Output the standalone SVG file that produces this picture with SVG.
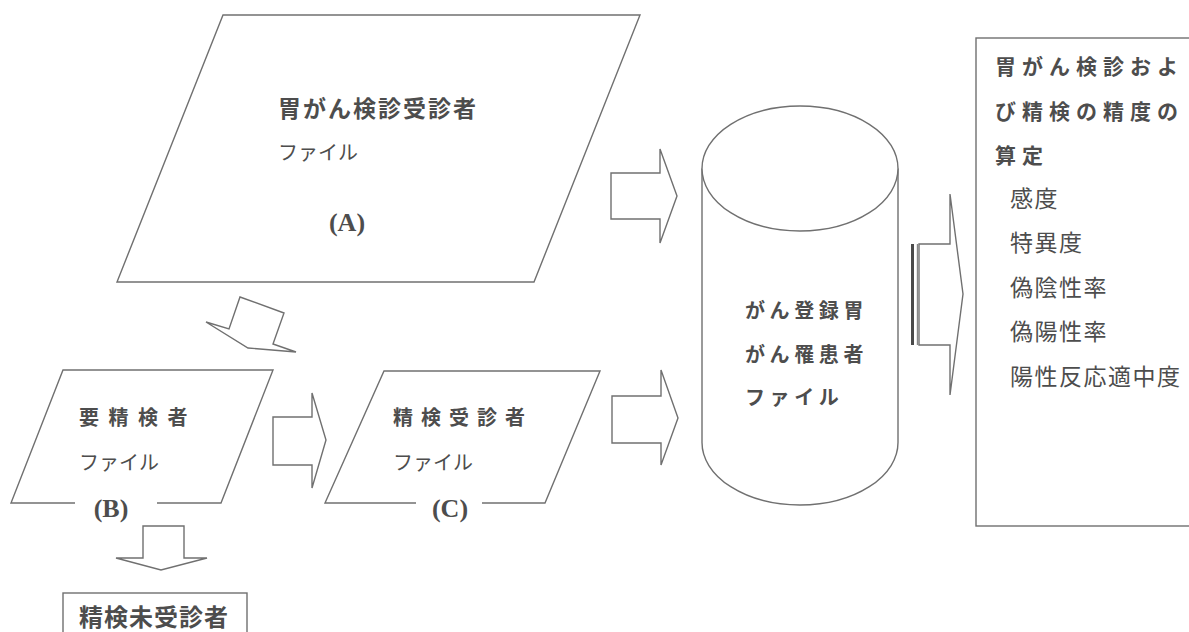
<svg xmlns="http://www.w3.org/2000/svg" width="1189" height="632" viewBox="0 0 1189 632">
<style>
.shape{fill:#fff;stroke:#707070;stroke-width:1.4;stroke-linejoin:miter}
.line{fill:none;stroke:#707070;stroke-width:1.4}
.jp{font-family:"Noto Sans CJK JP","Noto Sans CJK SC",sans-serif;fill:#4d4d4d}
.b{font-weight:bold}
.lab{font-family:"Liberation Serif",serif;font-weight:bold;fill:#4d4d4d;font-size:26px}
.s20{font-size:20px}
.s21{font-size:21px}
.s23{font-size:23px}
.s24{font-size:24px}
</style>
<rect width="1189" height="632" fill="#fff"/>
<g id="fileA">
<polygon class="shape" points="223,15 640,15 534,282 117,282"/>
<text class="jp b s23" x="278" y="117" letter-spacing="2">胃がん検診受診者</text>
<text class="jp s20" x="278" y="160">ファイル</text>
<text class="lab" x="347" y="231" text-anchor="middle">(A)</text>
</g>
<g id="fileB">
<polyline class="line" points="75,503 11,503 63,370 273,370 221,503 157,503"/>
<text class="jp b s20" x="79" y="425" letter-spacing="9.5">要精検者</text>
<text class="jp s20" x="79" y="470">ファイル</text>
<text class="lab" x="111" y="517" text-anchor="middle">(B)</text>
</g>
<g id="fileC">
<polyline class="line" points="416,503 325,503 384,371 600,371 545,503 482,503"/>
<text class="jp b s20" x="393" y="425" letter-spacing="8">精検受診者</text>
<text class="jp s20" x="393" y="470">ファイル</text>
<text class="lab" x="450" y="517" text-anchor="middle">(C)</text>
</g>
<g id="registry">
<path class="shape" d="M702,168.5 L702,442.5 A98,62.5 0 0 0 898,442.5 L898,168.5"/>
<ellipse class="shape" cx="800" cy="168.5" rx="98" ry="62.5"/>
<text class="jp b s20" x="745" y="318" letter-spacing="4.6">がん登録胃</text>
<text class="jp b s20" x="745" y="362" letter-spacing="4.6">がん罹患者</text>
<text class="jp b s20" x="745" y="405" letter-spacing="4.6">ファイル</text>
</g>
<g id="accuracy">
<rect class="shape" x="976" y="38" width="240" height="488"/>
<text class="jp b s21" x="995" y="74" letter-spacing="6">胃がん検診およ</text>
<text class="jp b s21" x="995" y="119" letter-spacing="6">び精検の精度の</text>
<text class="jp b s21" x="995" y="163" letter-spacing="6">算定</text>
<text class="jp s23" x="1010" y="207" letter-spacing="1.5">感度</text>
<text class="jp s23" x="1010" y="251" letter-spacing="1.5">特異度</text>
<text class="jp s23" x="1010" y="296" letter-spacing="1.5">偽陰性率</text>
<text class="jp s23" x="1010" y="340" letter-spacing="1.5">偽陽性率</text>
<text class="jp s23" x="1010" y="385" letter-spacing="1.5">陽性反応適中度</text>
</g>
<g id="nonAttendees">
<rect class="shape" x="63" y="593" width="184" height="60"/>
<text class="jp b s24" x="79" y="626" letter-spacing="1">精検未受診者</text>
</g>
<g id="connectors">
<polygon class="shape" points="611,173 660,173 660,149 677,196 660,243 660,219 611,219"/>
<polygon class="shape" points="612,396 661,396 661,370 678,418 661,465 661,443 612,443"/>
<polygon class="shape" points="273,417 312,417 312,393 326,440 312,488 312,465 273,465"/>
<polygon class="shape" points="240,297 284,313 273,344 296,352 248,348 206,322 229,329"/>
<polygon class="shape" points="143,526 184,526 184,558 207,558 161,570 116,558 143,558"/>
<polygon class="shape" points="919,244 950,244 950,194 963,294 950,395 950,345 919,345"/>
<line x1="912.5" y1="244" x2="912.5" y2="345" stroke="#4a4a4a" stroke-width="3"/>
<line x1="917.5" y1="244" x2="917.5" y2="345" stroke="#888" stroke-width="1.4"/>
</g>
</svg>
